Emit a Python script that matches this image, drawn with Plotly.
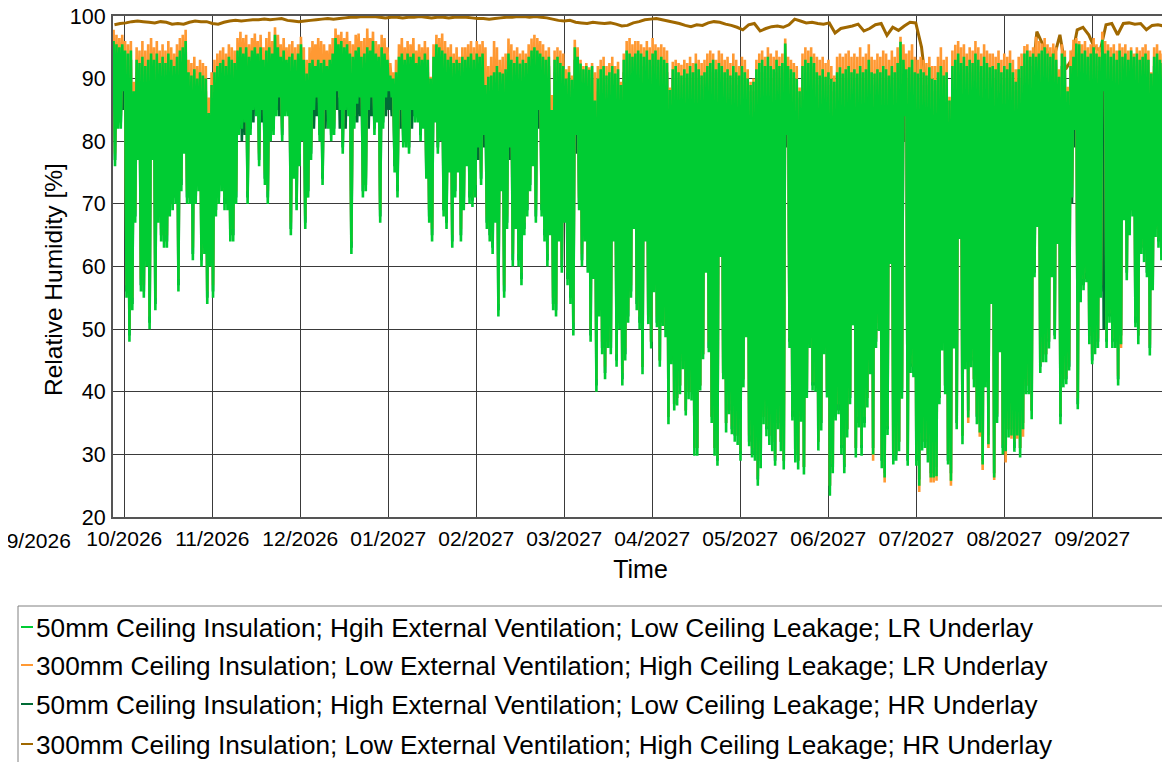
import plotly.graph_objects as go

# ---------------- data ----------------
month_labels = ["09/2026", "10/2026", "11/2026", "12/2026", "01/2027", "02/2027", "03/2027",
                "04/2027", "05/2027", "06/2027", "07/2027", "08/2027", "09/2027"]

series_names = [
    "50mm Ceiling Insulation; Hgih External Ventilation; Low Ceiling Leakage; LR Underlay",
    "300mm Ceiling Insulation; Low External Ventilation; High Ceiling Leakage; LR Underlay",
    "50mm Ceiling Insulation; High External Ventilation; Low Ceiling Leakage; HR Underlay",
    "300mm Ceiling Insulation; Low External Ventilation; High Ceiling Leakage; HR Underlay",
]

# daily maxima / minima of relative humidity [%]
green_max = [
    96,95.5,95,95.5,94.5,94,94.5,88,93,92.5, 93.5,92,93,94,93,94,92.5,93.5,92.5,94,
    93,92,93.5,94.5,95,96,91,90.5,91.5,90, 91,90.5,90,84.5,89,91,92,92.5,93,92,
    93.5,93,92.5,94.5,95,94,95,93.5,94.5,95, 94,95,93,94.5,95,94,97,95,93.5,94.5,93,
    93.5,94,93,94,95.5,93,90.8,92.5,93,92, 93,92.5,93,92,93,94,96.5,95.5,96,95,
    95.5,94,93.5,94.5,95,93.5,94,95,94.5,96, 94,93.5,95,94,93,90.5,90,91,93.5,94,
    93,94,93.5,94,92.5,93.5,93,94,93,90, 93.5,95.5,95,94.5,94,93,93.5,92.5,93,92.5,93.5,
    93,93.5,94,93,94,93.5,94,89,90.3,90.5, 91,92,91,90.8,91.5,94,93,92.5,93.5,92.4,
    93,92.5,93.5,94.5,95,94.5,94,93.5,93,93.5, 85,93,93.5,92.5,92,90,91,89.8,95,93.5,
    92.4,91.5,92,91.4,92,86.5,90,91.5,92,90.5, 91,92,90.8,91.5,89,93,94.5,94,93.5,94,94.5,
    94,93.5,94.5,93,94,94.5,93,93.5,93,92.5, 88.2,91.5,92,91,90.5,91.5,90.8,92,91,92.4,
    91.5,90.5,91,92,92.5,93,91.5,92.5,92,91, 91.5,90.5,92,91,90.5,92,91,90,89,89.5,
    91.5,92.5,93,92,93.5,92,91.5,93,92,92.5, 95.6,92,91.5,91,90,88,92,93,92.5,93.5,92.5,
    91,90.5,91.5,90.3,91,90,89.5,91,91.8,90.8, 91.5,92,91,91.5,90.8,92,91,91.5,93,91,
    90.8,91.5,91,92,91.5,90.5,92,91,92.5,95.9, 93,91.5,91.8,93,91,90.8,91.5,91,90.5,91.8,
    90,89.8,91,92,90.5,91,86.5,92,93,94, 92.5,93.5,92,93,92.5,94,93,92,93.5,92.5,91.8,
    92,91.5,92.5,91,92,91.5,92.5,91,89.5,91.5, 92,94,94.5,93.5,94,93.5,94,94.5,95,94,
    93.5,94,93,90.3,94,93.5,88,92,93.5,95.6, 95.5,94,94.5,93.5,94,95,94,93.5,96.2,94,
    94.5,93.5,94,93,94.5,93.5,94,93,94.5,93.5, 94,93,93.5,94,93,90.8,93.5,94,93,92.5,87,
]
green_min = [
    76,82,82,88,55,48,53,67,77,56, 55,60,50,77,53,67,64,63,63,68,
    69,70,56,72,78,70,70,61,70,72, 60,62,54,60,55,68,70,72,69,69,
    64,64,70,81,82,83,70,81,85,84, 76,85,73,70,80,81,84,87,80,84,84,
    65,74,69,76,80,66,71,77,85,87, 80,73,85,82,80,81,88,85,78,85,
    84,62,82,86,87,71,72,85,87,81, 83,67,82,87,88,87,75,71,85,79,
    79,78,85,83,83,80,82,74,67,64, 83,78,80,68,66,75,63,71,75,64,69,
    76,70,69.5,71,79,73,81,66,64,62, 67,52,72,55,66,79,60,66,60,57,
    65,68,72,76,67,85,68,64,60,65, 53,52,64,59,67,57,54,49,81,69,
    60,64,59,48,58,40,52,46,42,47, 46,64,44,50,41,45,51,55,66,53,50,
    42.8,64,50.8,46.9,55.9,50.3,44,50.5,48.7,34.8, 44.4,37,37.8,39.6,43.6,36.2,38.8,38.6,29.8,29.8,
    40.2,45.2,59,46.3,35,29.8,28.2,61.5,42,33.5, 36.4,33.2,32,31.5,29,40.7,48.7,31.3,29.5,29,
    25,27.8,34.8,32.9,31.5,30.5,28.2,34,30.5,27.6, 81,47,35.4,28.7,27.6,35.2,26.8,39,47,40.2,40,
    30.6,33.8,46,39.1,23.4,27,35.4,36.4,30,27, 32.7,38,50.6,29.5,34.3,29.8,34.3,37.5,42.8,30,
    47,49.7,27.8,26.3,33.1,60.4,28.4,29,30.5,38.9, 84,28.2,43,42.3,28.2,25,30.6,31,28.7,26.3,
    26.3,26.5,38,46.6,39.6,28.4,25.8,46.9,34,64.4, 31.6,43.6,35.9,43.9,40.7,34.8,33.5,28.4,40.7,31.6,54,
    26.3,35,46.3,30,30.5,32.7,33,30.4,33,29.5, 34,39.6,39.6,35.6,58.3,66.3,43,44.7,44.7,46.9,
    58.3,48.4,63.6,34.8,40.7,41.2,43.4,71,81.8,37.2, 54.3,56.2,57.5,47.6,44.4,46,47,55,88,47,
    51,47,47,41,47.6,67.4,57.8,65,68,50.3, 47.6,62,60.7,58.3,45.8,56.2,64.7,63,61,51,63.6,
]
orange_max = [
    97.8,97,96.5,97,96,95.5,96,89.5,95,94.5, 96,94.5,95.5,96.5,95,96,94.5,95.5,94.5,96,
    95,94,95.5,96.5,97,97.8,93,92.5,93.5,92, 93,92.5,92,87,91,93,94,94.5,95,94,
    95.5,95,94.5,96.5,97.5,96.5,97,95.5,96.5,97.2, 96,97,95,96.5,97.5,96,98.2,97,95.5,96.5,95,
    95.5,96,95,95.5,96.7,95,93,95,96,95.5, 96.5,96,95.5,94.5,95.5,96.5,98,97,97.5,96.5,
    97.5,96,95.5,97,97.2,96,96.5,98,96.5,97.5, 96,95.5,97,96.5,95,92.5,91,93,95.5,96.5,
    95,96,95.5,96.5,94.5,95.5,95,96,95,90.3, 95.5,97,96.5,97.2,96,95,95.5,94,95,93.5,95,
    95,95.5,96,95,96,95.5,96,95,92,93.5, 96,95,93,93.5,94,96.4,95.5,94.5,95,94,
    94.5,94,95.5,96.4,97,96.5,96,95.5,94.5,95, 87.4,94.5,95,94.5,94,91.5,92,90.5,96.2,95,
    93,92,92.5,91.8,92.5,91,92,93,93.5,92, 92.5,93.5,92,92.7,89.5,94,96,96.5,95.5,96,96,
    95.5,95,96,95,96.5,95.5,95,95.5,95,94.5, 88.6,92.7,93,92.5,92.2,93,92.5,93.5,92.5,94,
    93,92.5,93,94,94.5,94,93,94.5,94,93, 93.5,92.5,94,93,92,93.5,93,91.5,89.5,90,
    93,94,94.5,93.5,95,94,93.5,94.5,93.5,94, 96.4,93.5,93,92.5,92,88.6,94,95,94.5,95,94,
    93.5,93,93.5,92.5,93,92,90.5,93.5,94,93.5, 94,94.5,93.5,94,93.5,95,93.5,94,95.5,93.5,
    93,94,93.5,94.5,94,93,94.5,93.5,95,96.7, 95.5,94,94.5,95.5,93.5,93,93.5,93,92.5,93.5,
    92,92,93.5,95,93,93.5,87.1,94.5,95.4,96, 95,95.5,94,95,94.5,96,95,94,95.5,94.5,94,
    94,93.5,94.5,93,94,93.5,94.5,93,91.5,93.5, 94,95.2,95.5,94.5,95,96.7,96,95.6,96.5,95.5,
    95,95.6,95,91.5,95.5,94.5,88.7,94.5,96.2,96.5, 96,95.5,96,95,95.5,96.5,95.5,95,97.5,96,
    95.5,95,95.5,94.5,95.6,95,95.5,94.5,95,94, 95,94.5,95,95.5,94.5,91,95,95.5,94.5,94,88,
]
orange_min = [
    78,84,84,90,57,50,55,69,79,58, 57,62,52,79,55,69,66,65,65,70,
    71,72,58,74,80,72,72,63,72,74, 62,64,56,62,57,70,72,74,71,71,
    66,66,72,83,84,85,72,83,87,86, 78,87,75,72,82,83,86,89,82,86,86,
    67,76,71,78,82,68,73,79,87,89, 82,75,87,84,82,83,90,87,80,87,
    86,64,84,88,89,73,74,87,89,83, 85,69,84,89,90,89,77,73,87,81,
    81,80,87,85,85,82,84,76,69,66, 85,80,82,70,68,77,65,73,77,66,71,
    78,72,71,73,81,75,83,68,66,64, 69,54,74,57,68,81,62,68,62,59,
    67,70,74,78,69,87,70,66,62,67, 55,54,66,61,69,59,56,51,83,71,
    62,66,61,50,60,42,54,48,44,49, 48,66,46,52,43,47,53,57,68,55,52,
    44,66,52,48,57,52,45,52,50,36, 46,38,39,41,45,37,40,40,31,31,
    41,46,61,48,36,31,29.5,63,43,35, 38,34.5,33.5,33,30.5,42,50,33,31,30.5,
    26.5,29,36,34.5,33,32,29.5,35.5,32,29, 83,48.5,37,30,29,36.5,28,40.5,48.5,41.5,41.5,
    32,35.5,47.5,40.5,25,28.5,37,38,31.5,28.5, 34,39.5,52,31,36,31.5,36,39,44,29,
    48.5,51,29.5,25.5,34.5,62,30,30.5,32,40.5, 86,30,44.5,44,30,24,32,32.5,30,25.5,
    25.5,25.8,39.5,48,41,30,25,48,35.5,66, 33,45,35,45.5,42,36.5,32.8,27.5,42,31,55.5,
    25.9,36.5,48,31.5,28.7,34,32.5,32,32.5,31, 32.8,41,41,37,60,68,44.5,46,46,48.5,
    60,50,65,36.5,42,42.5,45,73,83.5,39, 56,58,59,49,46,47.5,48.5,57,89.5,48.5,
    52.5,48.5,48.5,42.5,47,69,59.5,66.5,69.5,52, 49,63.5,62,60,47.5,58,66,64.5,62.5,52.5,65,
]
dkgreen_max = [
    94,94,93,94,93,92,93,86,91,91, 92,90,91,92,91,92,91,92,91,92,
    91,90,92,93,93,94,89,89,90,88, 89,89,88,83,87,89,90,91,91,90,
    92,91,91,93,93,92,93,92,93,93, 92,93,91,93,93,92,95,93,92,93,91,
    92,92,91,92,94,91,89,91,91,90, 91,91,91,90,91,92,95,94,94,93,
    94,92,92,93,93,92,92,93,93,94, 92,92,93,92,91,89,88,89,92,92,
    91,92,92,92,91,92,91,92,91,88, 92,94,93,93,92,91,92,91,91,91,92,
    91,92,92,91,92,92,92,87,89,89, 89,90,89,89,90,92,91,91,92,91,
    91,91,92,93,93,93,92,92,91,92, 84,91,92,91,90,88,89,88,93,92,
    91,90,90,90,90,85,88,90,90,89, 89,90,89,90,87,91,93,92,92,92,93,
    92,92,93,91,92,93,91,92,91,91, 87,90,90,89,89,90,89,90,89,91,
    90,89,89,90,91,91,90,91,90,89, 90,89,90,89,89,90,89,88,88,88,
    90,91,91,90,92,90,90,91,90,91, 93,90,90,89,88,87,90,91,91,92,91,
    89,89,90,89,89,88,88,89,90,89, 90,90,89,90,89,90,89,90,91,89,
    89,90,89,90,90,89,90,89,91,94, 91,90,90,91,89,89,90,89,89,90,
    88,88,89,90,89,89,85,90,91,92, 91,92,90,91,91,92,91,90,92,91,90,
    90,90,91,89,90,90,91,89,88,90, 90,92,93,92,92,92,92,93,93,92,
    92,92,91,89,92,92,86,90,92,94, 94,92,93,92,92,93,92,92,95,92,
    93,92,92,91,93,92,92,91,93,92, 92,91,92,92,91,89,92,92,91,91,85,
]
dkgreen_min = [
    77,83,83,85,56,49,54,68,78,57, 56,61,51,78,54,68,65,64,64,69,
    70,71,57,73,79,71,71,62,71,73, 61,63,55,61,56,69,71,73,70,70,
    65,65,71,82,80,81,71,82,83,85, 77,83,74,71,81,82,85,84,81,85,85,
    66,75,70,77,81,67,72,78,82,84, 81,74,82,83,81,82,85,82,79,82,
    85,63,83,83,84,72,73,82,84,82, 84,68,83,84,85,84,76,72,82,80,
    80,79,82,84,84,81,83,75,68,65, 84,79,81,69,67,76,64,72,76,65,70,
    77,71,70.5,72,77,74,79,67,65,63, 68,53,73,56,67,77,61,67,61,58,
    66,69,73,77,68,82,69,65,61,66, 54,53,65,60,68,58,55,50,78,70,
    61,65,60,49,59,41,53,47,43,48, 47,65,45,51,42,46,52,56,67,54,51,
    44,65,52,48,57,51,45,51,50,36, 45,38,39,41,45,37,40,40,31,31,
    41,46,60,47,36,31,29,62,43,35, 37,34,33,33,30,42,50,32,30,30,
    26,29,36,34,33,32,29,35,32,29, 79,48,36,30,29,36,28,40,48,41,41,
    32,35,47,40,25,28,36,37,31,28, 34,39,52,31,35,31,35,39,44,31,
    48,51,29,27,34,61,29,30,32,40, 80,29,44,43,29,26,32,32,30,27,
    27,28,39,48,41,29,27,48,35,65, 33,45,37,45,42,36,35,29,42,33,55,
    27,36,47,31,32,34,34,31,34,31, 35,41,41,37,59,67,44,46,46,48,
    59,49,64,36,42,42,44,70,79,38, 55,57,58,49,45,47,48,56,50,48,
    52,48,48,42,49,68,59,66,69,51, 49,63,62,59,47,57,66,64,62,52,65,
]
# every second day
brown = [
    98.6,98.8,98.9,99.1,99.2, 99.1,99.0,98.9,99.1,99.0, 98.7,98.8,98.7,99.0,99.2,
    99.1,99.1,98.8,98.7,99.0, 99.2,99.3,99.2,99.3,99.4, 99.4,99.5,99.4,99.5,99.6,
    99.3,99.2,99.1,99.2,99.3, 99.4,99.5,99.6,99.5,99.6, 99.7,99.8,99.8,99.9,99.9,
    99.9,99.8,99.7,99.8,99.8, 99.7,99.8,99.8,99.9,99.8, 99.7,99.8,99.8,99.7,99.8,
    99.8,99.8,99.7,99.6,99.6, 99.5,99.6,99.7,99.8,99.8, 99.9,99.9,99.8,99.9,99.8,
    99.7,99.5,99.3,99.2,99.3, 99.0,98.9,98.8,99.0,98.9, 98.8,98.9,98.7,98.4,98.5,
    98.9,99.1,99.4,99.5,99.6, 99.4,99.2,99.0,98.8,98.5, 98.3,98.6,98.5,98.9,99.1,
    99.0,98.7,98.5,98.2,97.8, 98.6,98.8,97.6,98.0,98.3, 98.4,98.2,98.6,99.5,99.2,
    98.9,99.0,98.8,98.7,98.9, 97.3,98.0,98.2,98.4,98.7, 97.6,98.0,98.6,98.8,96.9,
    98.2,97.7,98.4,99.0,98.9, 95.0,87.0,86.5,86.0,86.5, 86.0,86.5,87.0,86.5,86.0,
    86.5,86.0,86.5,87.0,86.5, 87.0,86.5,87.0,86.5,88.0, 97.5,95.5,94.0,93.5,97.0,
    91.5,93.0,97.8,98.2,97.0, 95.0,94.5,98.6,98.8,97.0, 98.8,98.9,98.7,98.8,97.8,
    98.5,98.6,98.4,
]

# ---------------- layout constants ----------------
# the page body has an 8 px margin, so the figure is drawn 8 px in from the window corner
OFF = 8
W, H = 1170 - OFF, 762 - OFF
L, R, T, B = 113 - OFF, 1168 - OFF, 16 - OFF, 517 - OFF     # plot area, figure pixels
N_DAYS = len(green_max)
FONT = "Liberation Sans, Arial, sans-serif"

def px(sx):          # window pixel -> paper x
    return (sx - OFF - L) / (R - L)

def py(sy):          # window pixel -> paper y
    return (B - (sy - OFF)) / (B - T)

def zigzag(hi, lo):
    xs, ys = [], []
    for i, (a, b) in enumerate(zip(hi, lo)):
        xs += [i + 0.2, i + 0.7]
        ys += [a, b]
    return xs, ys

fig = go.Figure()

bx = [2 * i + 0.5 for i in range(len(brown))]
fig.add_trace(go.Scatter(x=bx, y=brown, mode="lines", name=series_names[3],
                         line=dict(color="#a06800", width=3, simplify=False),
                         showlegend=False, hoverinfo="skip"))
for hi, lo, col, nm in [(dkgreen_max, dkgreen_min, "#006b35", series_names[2]),
                        (orange_max, orange_min, "#ff9933", series_names[1]),
                        (green_max, green_min, "#00cc33", series_names[0])]:
    xs, ys = zigzag(hi, lo)
    fig.add_trace(go.Scatter(x=xs, y=ys, mode="lines", name=nm,
                             line=dict(color=col, width=2.6, simplify=False),
                             showlegend=False, hoverinfo="skip"))

# month ticks (equally spaced in the original)
first_tick, tick_step = 3.92, 30.53
tick_vals = [first_tick + k * tick_step for k in range(len(month_labels) - 1)]

fig.update_layout(
    width=W, height=H,
    margin=dict(l=L, r=W - R, t=T, b=H - B, pad=0),
    paper_bgcolor="white", plot_bgcolor="white",
    font=dict(family=FONT, color="black", size=20),
    xaxis=dict(range=[0, N_DAYS], tickvals=tick_vals, ticktext=month_labels[1:],
               showgrid=True, gridcolor="#3a3a3a", gridwidth=1, zeroline=False,
               showline=True, mirror=True, linecolor="#555555", linewidth=2,
               ticks="", tickfont=dict(size=21), ticklabelstandoff=2,
               ticklabeloverflow="allow", automargin=False,
               title=dict(text="Time", font=dict(size=25), standoff=11)),
    yaxis=dict(range=[20, 100], dtick=10, tick0=20,
               showgrid=True, gridcolor="#3a3a3a", gridwidth=1, zeroline=False,
               showline=True, mirror=True, linecolor="#555555", linewidth=2,
               ticks="", tickfont=dict(size=21.5), ticklabelstandoff=1,
               ticklabeloverflow="allow", automargin=False),
    showlegend=False,
)

# y-axis title
fig.add_annotation(text="Relative Humidity [%]", xref="paper", yref="paper",
                   x=px(54), y=py(280), xanchor="center", yanchor="middle",
                   textangle=-90, showarrow=False,
                   font=dict(size=24.5, family=FONT, color="black"))

# first month label, partly cut off at the window's left edge
fig.add_annotation(text=month_labels[0], xref="paper", yref="paper",
                   x=px(73), y=py(540), xanchor="right", yanchor="middle",
                   showarrow=False, font=dict(size=21, family=FONT, color="black"))

# legend drawn as a box with short coloured dashes
fig.add_shape(type="rect", xref="paper", yref="paper",
              x0=px(18), x1=px(1200), y0=py(606), y1=py(790),
              line=dict(color="#808080", width=1), fillcolor="rgba(0,0,0,0)")
legend_cols = ["#00cc33", "#ff9933", "#006b35", "#a06800"]
row_y = [628, 666, 705, 745]
for nm, col, yy in zip(series_names, legend_cols, row_y):
    fig.add_shape(type="line", xref="paper", yref="paper",
                  x0=px(21), x1=px(33), y0=py(yy - 1), y1=py(yy - 1),
                  line=dict(color=col, width=2))
    fig.add_annotation(text=nm, xref="paper", yref="paper", x=px(34), y=py(yy),
                       xanchor="left", yanchor="middle", showarrow=False,
                       font=dict(size=26.2, family=FONT, color="black"))

fig.write_html("out.html")
